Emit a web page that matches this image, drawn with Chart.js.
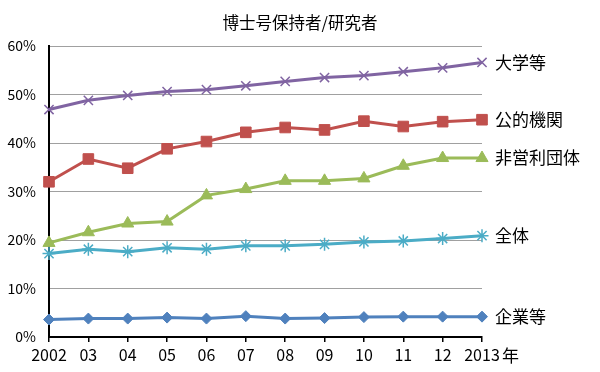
<!DOCTYPE html>
<html><head><meta charset="utf-8">
<script src="https://cdn.jsdelivr.net/npm/chart.js@4/dist/chart.umd.min.js"></script>
<style>html,body{margin:0;padding:0;background:#fff}</style>
</head><body>
<canvas id="c" width="600" height="372"></canvas>
<script>
const chartTitle = "博士号保持者/研究者";
const categories = ["2002","03","04","05","06","07","08","09","10","11","12","2013"];
const yearUnit = "年";
const seriesNames = ["大学等","公的機関","非営利団体","全体","企業等"];
const university = [46.9,48.8,49.8,50.6,51.0,51.8,52.7,53.5,53.9,54.7,55.5,56.6];
const publicInst = [32.0,36.7,34.8,38.8,40.3,42.2,43.2,42.7,44.5,43.4,44.4,44.8];
const nonProfit  = [19.4,21.6,23.4,23.8,29.2,30.5,32.2,32.2,32.7,35.3,36.9,36.9];
const total      = [17.2,18.1,17.6,18.4,18.1,18.8,18.8,19.1,19.6,19.8,20.3,20.9];
const business   = [3.6,3.8,3.8,4.0,3.8,4.3,3.8,3.9,4.1,4.2,4.2,4.2];
const yMin = 0, yMax = 60, yStep = 10;

const FONT = "'Noto Sans CJK JP', 'Noto Sans', sans-serif";

const textPlugin = {
  id: 'textPlugin',
  afterDraw(chart) {
    const ctx = chart.ctx;
    ctx.save();
    ctx.fillStyle = '#000';
    ctx.textBaseline = 'middle';
    // title centred on the whole canvas
    ctx.textAlign = 'center';
    ctx.font = "16.5px " + FONT;
    ctx.fillText(chartTitle, chart.width / 2, 22.5);
    // series names next to their last point
    ctx.textAlign = 'left';
    ctx.font = "17px " + FONT;
    chart.data.datasets.forEach((ds, i) => {
      const meta = chart.getDatasetMeta(i);
      const pt = meta.data[meta.data.length - 1];
      ctx.fillText(ds.label, pt.x + 13, pt.y);
    });
    // unit after last x label
    const xs = chart.scales.x;
    const lastX = xs.getPixelForValue(categories.length - 1);
    ctx.fillText(yearUnit, lastX + 20, xs.top + 19);
    ctx.restore();
  }
};

const mk = (label, data, color, style, radius, bw) => ({
  label, data, borderColor: color, backgroundColor: color,
  borderWidth: 3, pointStyle: style, pointRadius: radius,
  pointBorderColor: color, pointBackgroundColor: color,
  pointBorderWidth: bw, tension: 0
});

new Chart(document.getElementById('c'), {
  type: 'line',
  data: {
    labels: categories,
    datasets: [
      mk(seriesNames[4], business, '#4F81BD', 'rectRot', 5.5, 1),
      mk(seriesNames[3], total, '#4BACC6', 'star', 6.5, 1.5),
      mk(seriesNames[2], nonProfit, '#9BBB59', 'triangle', 7, 1),
      mk(seriesNames[1], publicInst, '#C0504D', 'rect', 7.5, 1),
      mk(seriesNames[0], university, '#8064A2', 'crossRot', 6.5, 1.5)
    ]
  },
  options: {
    responsive: false, animation: false, devicePixelRatio: 1,
    layout: { padding: { left: 0, right: 118, top: 46, bottom: 0 } },
    plugins: {
      legend: { display: false },
      tooltip: { enabled: false },
      title: { display: false }
    },
    scales: {
      x: {
        type: 'category', offset: false,
        grid: { drawOnChartArea: false, drawTicks: true, tickLength: 5, color: '#000', lineWidth: 1.5 },
        border: { display: true, color: '#000', width: 2 },
        ticks: { color: '#000', font: { family: FONT, size: 16 }, padding: 3, maxRotation: 0, autoSkip: false },
        afterFit(s) { s.height = 35; }
      },
      y: {
        min: yMin, max: yMax,
        grid: { color: '#a0a0a0', lineWidth: 1, drawTicks: false },
        border: { display: true, color: '#000', width: 2 },
        ticks: { stepSize: yStep, color: '#000', font: { family: FONT, size: 14 }, padding: 13,
          callback: v => v + '%' },
        afterFit(s) { s.width = 49; }
      }
    }
  },
  plugins: [textPlugin]
});
</script>
</body></html>
